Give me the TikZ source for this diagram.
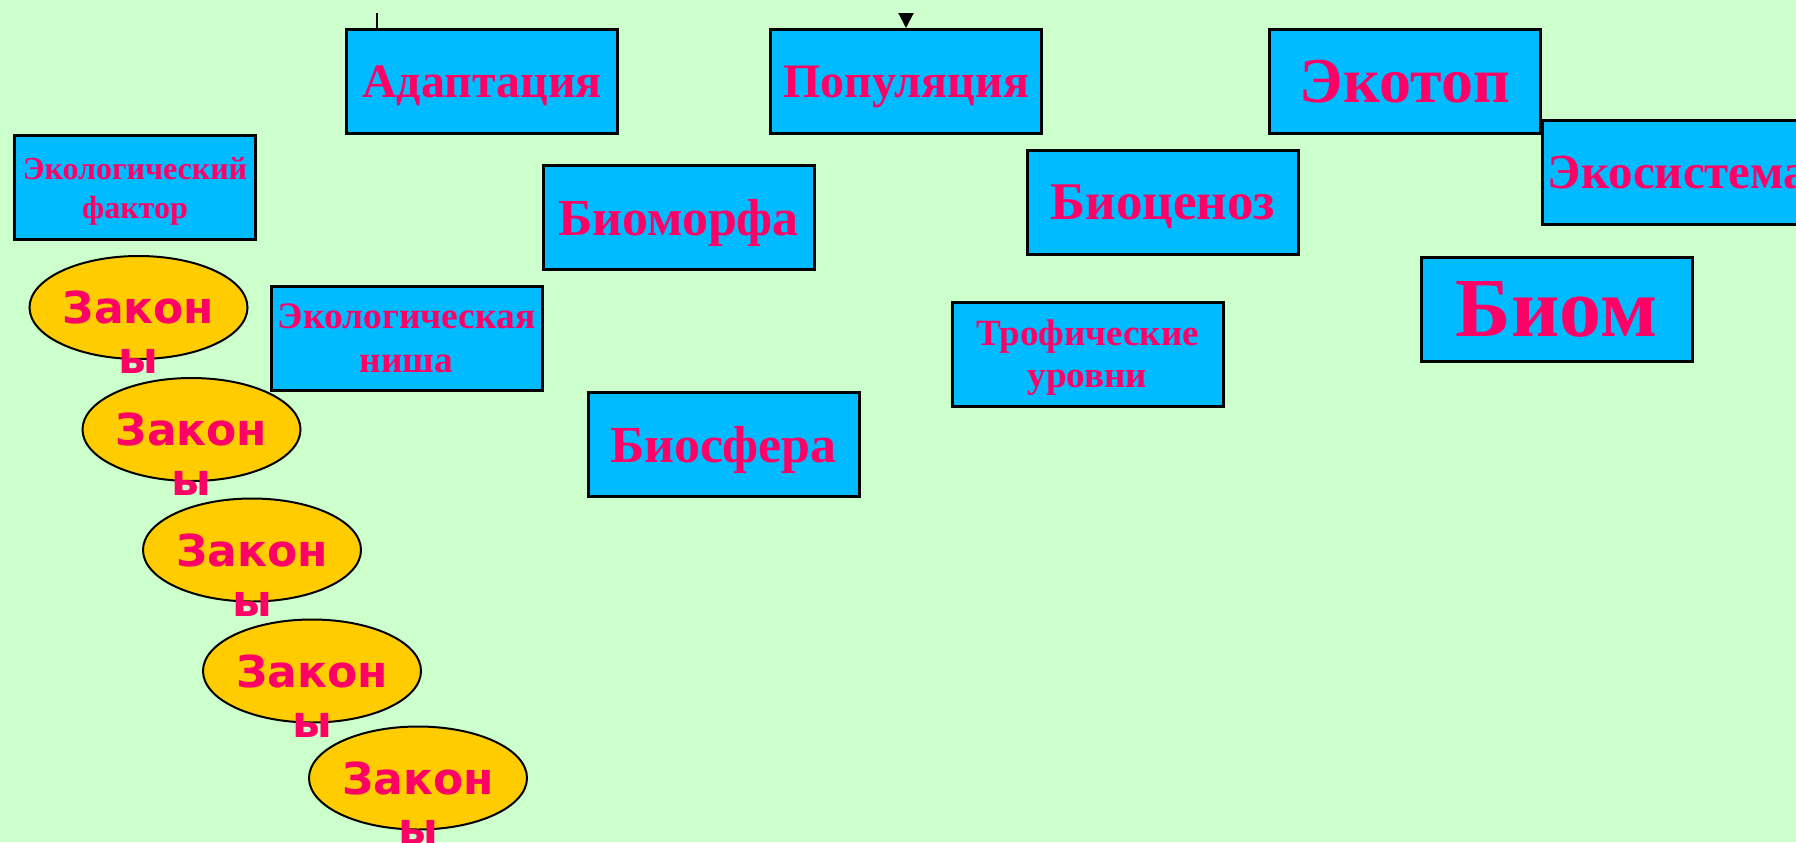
\documentclass[tikz,border=0pt]{standalone}
\usepackage{fontspec}
\setmainfont{Liberation Serif}
\newfontfamily\lawfont{DejaVu Sans}
\usetikzlibrary{calc,arrows.meta,shapes.geometric}
\definecolor{paleground}{HTML}{CCFFCC}
\definecolor{termblue}{HTML}{00BBFF}
\definecolor{termpink}{HTML}{FF0066}
\definecolor{lawyellow}{HTML}{FFCC00}

\begin{document}
\begin{tikzpicture}[x=0.5pt,y=-0.5pt,
  term/.style={draw=black,line width=1.5pt,fill=termblue,text=termpink,
    minimum width=135.5pt,minimum height=52pt,inner sep=0pt,
    text depth=0pt,align=center},
  fs/.style 2 args={font=\bfseries\fontsize{#1}{#2}\selectfont},
  law/.style={ellipse,draw=black,line width=1pt,fill=lawyellow,text=termpink,
    font=\lawfont\bfseries\fontsize{22}{26}\selectfont,
    minimum width=109pt,minimum height=51.5pt,inner sep=0pt},
  lawtail/.style={text=termpink,font=\lawfont\bfseries\fontsize{22}{26}\selectfont,
    inner sep=0pt,anchor=base}]
\useasboundingbox (0,0) rectangle (1796,842);
\clip (0,0) rectangle (1796,842);
\fill[paleground] (0,0) rectangle (1796,842);

% terms
\node[term,fs={16}{19.5},minimum width=120.5pt] (fakt) at (135,187.5) {Экологический\\фактор};
\node[term,fs={24}{28}] (adapt) at (482,81.5) {Адаптация};
\node[term,fs={24}{28}] (popul) at (906,81.5) {Популяция};
\node[term,fs={32}{36}] (ekotop) at (1405,81.5) {Экотоп};
\node[term,fs={26}{30}] (biomorf) at (678.5,217.5) {Биоморфа};
\node[term,fs={26.5}{30}] (biocen) at (1163,202.5) {Биоценоз};
\node[term,fs={24.5}{30}] (ekosist) at (1678,172.5) {Экосистема};
\node[term,fs={18.7}{22}] (nisha) at (406.5,338.5) {Экологическая\\ниша};
\node[term,fs={18.5}{21}] (trof) at (1087.5,354) {Трофические\\уровни};
\node[term,fs={42}{46}] (biom) at (1556.5,309) {Биом};
\node[term,fs={26}{30}] (biosf) at (723.5,444) {Биосфера};

% laws
\node[law] (law1) at (138.5,307.5) {Закон};
\node[lawtail] (law1y) at ($(law1.south)+(0,13.5)$) {ы};
\node[law] (law2) at (191.5,429.5) {Закон};
\node[lawtail] (law2y) at ($(law2.south)+(0,13.5)$) {ы};
\node[law] (law3) at (252,550) {Закон};
\node[lawtail] (law3y) at ($(law3.south)+(0,13.5)$) {ы};
\node[law] (law4) at (312,671) {Закон};
\node[lawtail] (law4y) at ($(law4.south)+(0,13.5)$) {ы};
\node[law] (law5) at (418,778) {Закон};
\node[lawtail] (law5y) at ($(law5.south)+(0,13.5)$) {ы};

\coordinate (adtop) at (377,13);
\coordinate (potop) at (906,13);
\draw[line width=1pt] (adtop) -- (adtop |- adapt.north);
\draw[line width=1pt,-{Triangle[length=7.5pt,width=7.5pt]}] (potop) -- (popul.north);
\end{tikzpicture}
\end{document}
